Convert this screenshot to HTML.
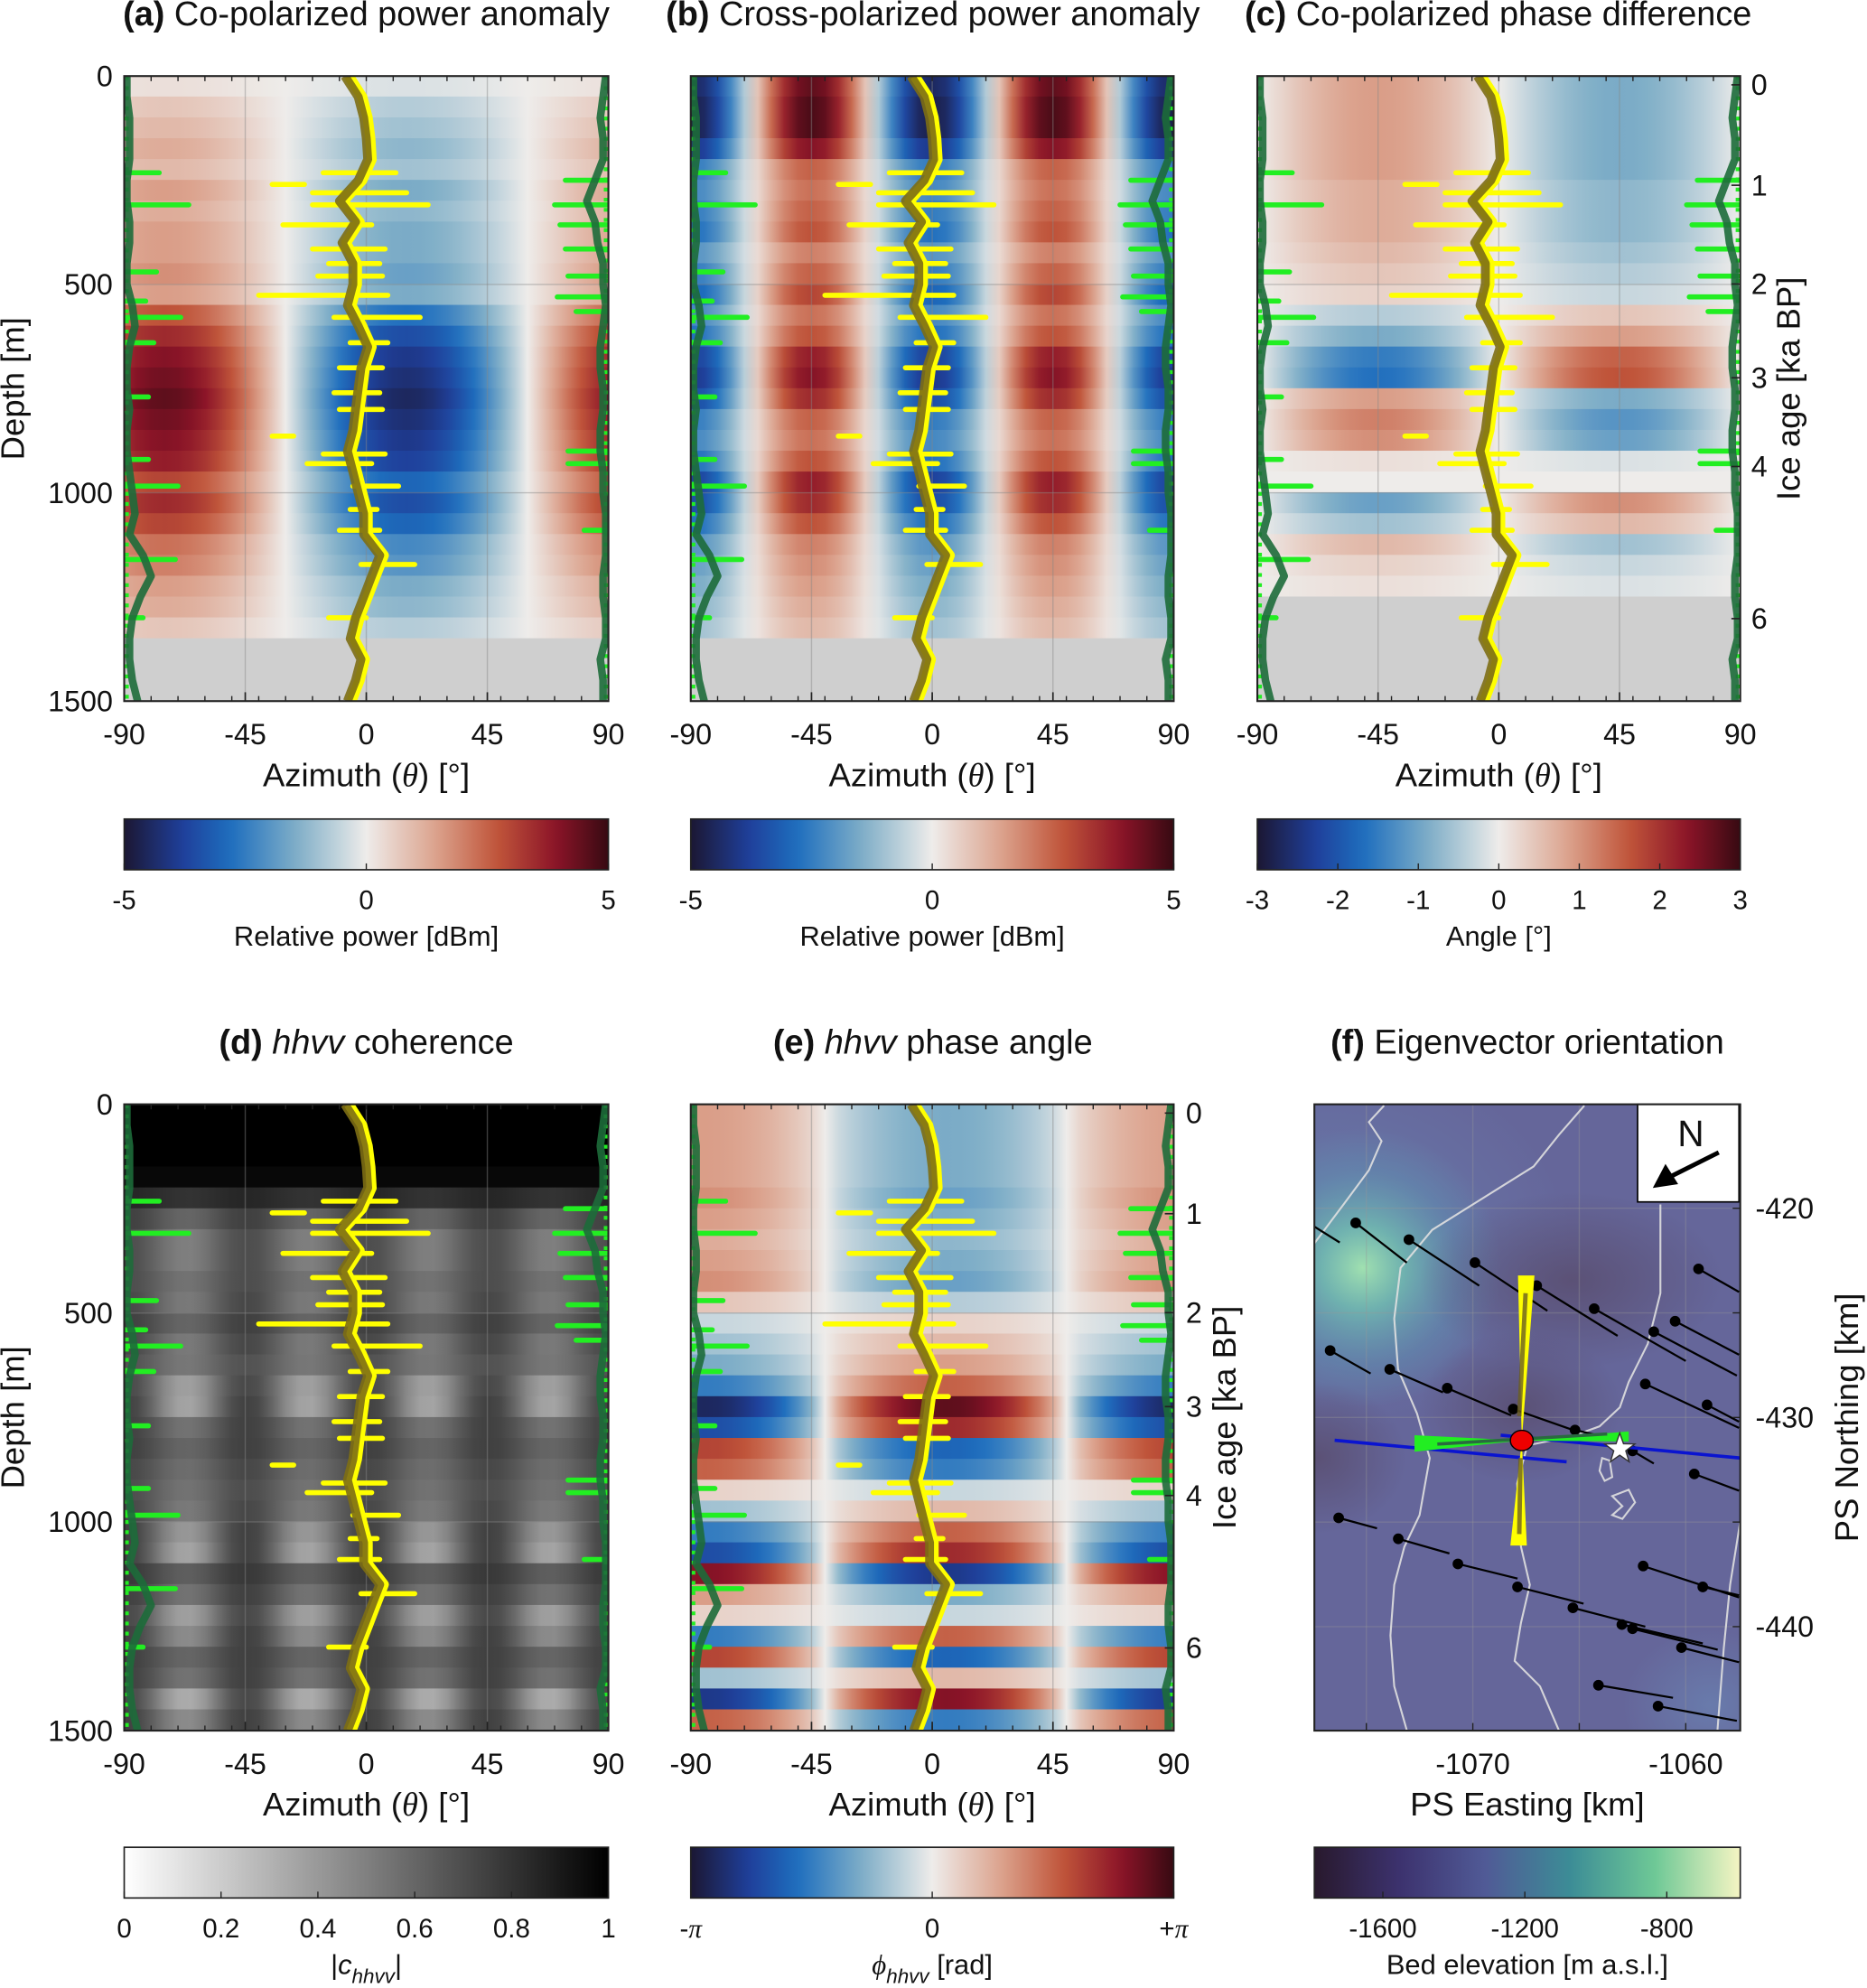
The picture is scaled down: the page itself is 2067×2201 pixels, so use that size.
<!DOCTYPE html>
<html><head><meta charset="utf-8">
<style>
html,body{margin:0;padding:0;background:#fff;}
svg{display:block;font-family:"Liberation Sans",Arial,sans-serif;}
</style></head>
<body>
<svg id="fig" width="2067" height="2201" viewBox="0 0 1473 1568" preserveAspectRatio="none" xmlns="http://www.w3.org/2000/svg">
<defs id="defs"></defs>
<rect x="0" y="0" width="1473" height="1568" fill="#fff"/>
<g id="root"></g>
</svg>
<script>
// ---------------- DATA ----------------
const depthBins = [0,50,100,150,200,250,300,350,400,450,500,550,600,650,700,750,800,850,900,950,1000,1050,1100,1150,1200,1250,1300,1350,1400,1450];
// (a) co-pol power anomaly amplitude (normalised to 5 dBm)
const copolAmp = [0.05,0.15,0.2,0.25,0.2,0.3,0.25,0.3,0.3,0.35,0.3,0.55,0.7,0.8,0.85,0.9,0.85,0.8,0.75,0.6,0.7,0.6,0.45,0.4,0.3,0.25,0.15,0.08,0.03,0.02];
// (b) cross-pol amplitude
const crossAmp = [0.9,0.95,0.95,0.8,0.5,0.45,0.5,0.55,0.4,0.5,0.6,0.45,0.55,0.75,0.8,0.7,0.5,0.45,0.55,0.75,0.7,0.55,0.4,0.35,0.3,0.25,0.2,0.12,0.05,0.03];
// (c) co-pol phase difference signed amplitude (normalised to 3 deg)
const phaseAmp = [0.3,0.3,0.3,0.3,0.3,0.25,0.25,0.25,0.2,0.15,0.1,-0.15,-0.3,-0.5,-0.55,0.3,0.4,0.35,0.05,0,-0.35,-0.2,0.2,0.1,0.05,0,0,0,0,0];
// (d) coherence base and modulation
const cohBase = [1,1,1,0.97,0.85,0.75,0.7,0.7,0.7,0.72,0.75,0.72,0.68,0.72,0.75,0.75,0.75,0.72,0.7,0.72,0.75,0.75,0.78,0.75,0.72,0.75,0.75,0.75,0.72,0.75];
const cohMod = [0,0,0,0,0.05,0.15,0.2,0.2,0.15,0.2,0.15,0.2,0.15,0.35,0.4,0.2,0.15,0.15,0.15,0.2,0.35,0.4,0.15,0.2,0.35,0.3,0.15,0.2,0.4,0.3];
// (e) hhvv phase angle signed amplitude (normalised to pi)
const hhvvAmp = [0.3,0.3,0.3,0.3,0.35,0.3,0.25,0.3,0.35,0.15,-0.1,-0.2,-0.3,-0.5,-0.9,-0.7,0.6,0.5,0.1,-0.2,-0.5,-0.7,0.8,0.3,0.1,-0.5,0.6,-0.2,-0.8,0.5];
// fabric orientation (olive line) theta by depth (every 50 m, 0..1500)
const oliveTheta = [-8,-3,-1,0,0.5,-3,-10,-4,-9,-5,-5,-7,-3,0.5,-2,-3,-4,-5,-7,-5,-3,-1,-1,5,2,-1,-4,-6,-2,-4,-7];
// yellow scatter spikes: depth, theta min, theta max
const yellowDepth = [232,260,280,309,357,415,450,480,526,579,640,700,760,800,864,907,930,984,1040,1090,1172,1300];
const yellowMin = [-16,-35,-20,-20,-31,-20,-14,-18,-40,-12,-6,-10,-12,-10,-35,-16,-22,-5,-6,-10,-2,-14];
const yellowMax = [11,-23,15,23,2,7,5,6,8,20,8,6,5,6,-27,7,2,12,4,5,18,0];
// dark green line (left/right) theta by depth
const greenLeft = [-89,-89,-88,-88,-88,-89,-89,-88,-88,-89,-89,-87,-86,-88,-89,-89,-88,-89,-89,-88,-87,-86,-88,-83,-80,-84,-87,-88,-88,-87,-85];
const greenRight = [89,88,87,88,88,85,82,85,86,88,88,89,88,87,87,88,88,87,87,88,88,89,89,89,88,88,89,89,87,88,88];
const greenLDepth = [232,309,470,540,579,640,770,920,984,1160,1300];
const greenLMax = [-77,-66,-78,-82,-69,-79,-81,-81,-70,-71,-83];
const greenRDepth = [250,309,357,415,480,530,565,900,930,1090];
const greenRMin = [74,70,72,74,75,71,78,75,75,81];
// ice age ticks
const iceAgeTicks = [0,1,2,3,4,6];
const iceAgeDepths = [21,262,499,724,937,1302];
// map (f): arrows (start E,N km and displacement)
const arrE = [-1075.5,-1073.0,-1069.9,-1067.0,-1064.3,-1061.5,-1060.5,-1059.4,-1076.7,-1073.9,-1071.2,-1068.1,-1065.2,-1061.9,-1059.0,-1062.5,-1059.6,-1076.3,-1073.5,-1070.7,-1067.9,-1065.3,-1063.0,-1062.5,-1060.2,-1062.0,-1059.2,-1064.1,-1061.3];
const arrN = [-420.7,-421.5,-422.6,-423.7,-424.8,-425.9,-425.4,-422.9,-426.8,-427.7,-428.6,-429.6,-430.6,-428.4,-429.4,-431.6,-432.7,-434.8,-435.8,-437.0,-438.1,-439.1,-439.9,-440.1,-441.0,-437.1,-438.1,-442.8,-443.8];
const arrDE = [2.4,3.3,3.4,3.8,4.3,3.9,3.0,1.9,1.9,2.5,3.0,2.8,1.7,4.4,1.5,1.0,2.1,1.8,2.4,2.8,3.1,3.4,3.8,4.0,2.7,4.5,1.7,3.5,3.7];
const arrDN = [-1.9,-2.2,-2.3,-2.4,-2.5,-2.1,-1.6,-1.1,-1.1,-1.1,-1.3,-1.0,-0.4,-2.1,-0.8,-0.6,-0.8,-0.5,-0.7,-0.7,-0.8,-0.9,-0.9,-1.0,-0.7,-1.5,-0.4,-0.6,-0.7];
const siteE = -1067.7, siteN = -431.1;
const starE = -1063.1, starN = -431.5;
const xTicksF = [-1070,-1060];
const yTicksF = [-420,-430,-440];
const bedTicks = [-1600,-1200,-800];

// ---------------- HELPERS ----------------
const NS = "http://www.w3.org/2000/svg";
const root = document.getElementById('root');
const defs = document.getElementById('defs');
function mk(tag, attrs, parent){
  const e = document.createElementNS(NS, tag);
  for (const k in attrs) e.setAttribute(k, attrs[k]);
  (parent||root).appendChild(e);
  return e;
}
const divStops = [[0,[27,23,51]],[0.12,[31,63,154]],[0.22,[30,110,190]],[0.36,[130,176,200]],[0.5,[238,236,234]],[0.64,[220,164,143]],[0.77,[192,85,58]],[0.89,[140,20,40]],[1,[55,10,18]]];
function interp(stops,t){
  t=Math.max(0,Math.min(1,t));
  for(let i=1;i<stops.length;i++){ if(t<=stops[i][0]){const a=stops[i-1],b=stops[i];const f=(t-a[0])/(b[0]-a[0]);
    return 'rgb('+a[1].map((c,j)=>Math.round(c+(b[1][j]-c)*f)).join(',')+')';}}
  return 'rgb('+stops[stops.length-1][1].join(',')+')';
}
const div = v => interp(divStops,(v+1)/2);
const gray = v => { const c=Math.round(255*(1-Math.max(0,Math.min(1,v)))); return 'rgb('+c+','+c+','+c+')'; };
const bedStops = [[0,[40,25,45]],[0.2,[60,50,110]],[0.4,[80,90,150]],[0.6,[60,140,150]],[0.8,[110,200,150]],[1,[245,245,195]]];

const R1 = {y0:60,y1:553}, R2 = {y0:871,y1:1365};
const COLS = [{x0:98,x1:480},{x0:545,x1:926},{x0:992,x1:1373}];
let gid=0;
function text(x,y,str,opt,parent){
  const t = mk('text',Object.assign({x:x,y:y,'font-size':22,fill:'#111','text-anchor':'middle'},opt||{}),parent);
  t.innerHTML = str; return t;
}

function heatPanel(name, col, row, fn, grayFrom){
  const x0=col.x0,x1=col.x1,y0=row.y0,y1=row.y1;
  const xs = th => x0+(th+90)/180*(x1-x0);
  const ys = d => y0+d/1500*(y1-y0);
  const g = mk('g',{});
  
  
  const clipId='clip'+(gid++);
  const cp = mk('clipPath',{id:clipId},defs); mk('rect',{x:x0,y:y0,width:x1-x0,height:y1-y0},cp);
  g.setAttribute('clip-path','url(#'+clipId+')');
  depthBins.forEach((d,i)=>{
    const id='hg'+(gid++);
    const lg = mk('linearGradient',{id:id,x1:'0',x2:'1',y1:'0',y2:'0'},defs);
    for(let th=-90;th<=90;th+=5){
      mk('stop',{offset:((th+90)/180).toFixed(3),'stop-color':(grayFrom!==null && d>=grayFrom)?'#cfcfcf':fn(i,th)},lg);
    }
    const r = mk('rect',{x:x0,y:ys(d)-0.3,width:x1-x0,height:ys(50)-ys(0)+0.6,fill:'url(#'+id+')'},g);
    
    
  });
  [-45,0,45].forEach(t=>mk('line',{x1:xs(t),x2:xs(t),y1:y0,y2:y1,stroke:'#888','stroke-opacity':0.45,'stroke-width':1},g));
  [500,1000].forEach(d=>mk('line',{x1:x0,x2:x1,y1:ys(d),y2:ys(d),stroke:'#888','stroke-opacity':0.45,'stroke-width':1},g));
  const lineFrom = (arr)=>arr.map((t,i)=>xs(t).toFixed(1)+','+ys(i*50).toFixed(1)).join(' ');
  for(let i=0;i<greenLDepth.length;i++){
    const l=mk('line',{x1:x0,x2:xs(greenLMax[i]),y1:ys(greenLDepth[i]),y2:ys(greenLDepth[i]),stroke:'#22ee22','stroke-width':4,'stroke-linecap':'round'},g);
     
  }
  for(let i=0;i<greenRDepth.length;i++){
    const l=mk('line',{x1:x1,x2:xs(greenRMin[i]),y1:ys(greenRDepth[i]),y2:ys(greenRDepth[i]),stroke:'#22ee22','stroke-width':4,'stroke-linecap':'round'},g);
     
  }
  mk('polyline',{points:greenLeft.map((t,i)=>xs(-89.5).toFixed(1)+','+ys(i*50).toFixed(1)).join(' '),fill:'none',stroke:'#22ee22','stroke-width':5,'stroke-dasharray':'3 5'},g);
  mk('polyline',{points:greenRight.map((t,i)=>xs(89.5).toFixed(1)+','+ys(i*50).toFixed(1)).join(' '),fill:'none',stroke:'#22ee22','stroke-width':5,'stroke-dasharray':'3 5'},g);
  const gl=mk('polyline',{points:lineFrom(greenLeft),fill:'none',stroke:'#1d6b3a','stroke-width':6,'stroke-opacity':0.9,'stroke-linejoin':'round'},g);
   
  const gr=mk('polyline',{points:lineFrom(greenRight),fill:'none',stroke:'#1d6b3a','stroke-width':6,'stroke-opacity':0.9,'stroke-linejoin':'round'},g);
   
  const yl=mk('polyline',{points:oliveTheta.map((t,i)=>xs(t+1.5).toFixed(1)+','+ys(i*50).toFixed(1)).join(' '),fill:'none',stroke:'#ffff00','stroke-width':8,'stroke-linejoin':'round'},g);
   
  for(let i=0;i<yellowDepth.length;i++){
    const l=mk('line',{x1:xs(yellowMin[i]),x2:xs(yellowMax[i]),y1:ys(yellowDepth[i]),y2:ys(yellowDepth[i]),stroke:'#ffff00','stroke-width':4,'stroke-linecap':'round'},g);
     
  }
  const ol=mk('polyline',{points:lineFrom(oliveTheta),fill:'none',stroke:'#7d6e14','stroke-opacity':0.9,'stroke-width':7,'stroke-linejoin':'round'},g);
   
  mk('rect',{x:x0,y:y0,width:x1-x0,height:y1-y0,fill:'none',stroke:'#222','stroke-width':1.5});
  for(let t=-90;t<=90;t+=10){ mk('line',{x1:xs(t),x2:xs(t),y1:y1,y2:y1-4,stroke:'#222','stroke-width':1});mk('line',{x1:xs(t),x2:xs(t),y1:y0,y2:y0+4,stroke:'#222','stroke-width':1}); }
  [-90,-45,0,45,90].forEach(t=>{
    mk('line',{x1:xs(t),x2:xs(t),y1:y1,y2:y1-7,stroke:'#222','stroke-width':1.2});
    const tt=text(xs(t),y1+34,String(t),{'font-size':23});
     
  });
  const xt=text((x0+x1)/2,y1+67,'Azimuth (<tspan font-family="Liberation Serif" font-style="italic">θ</tspan>) [°]',{'font-size':26});
   
  return {xs,ys};
}

function depthAxis(col,row){
  const ys = d => row.y0+d/1500*(row.y1-row.y0);
  [0,500,1000,1500].forEach(d=>{
    const t=text(col.x0-9,ys(d)+8,String(d),{'text-anchor':'end','font-size':23});
     
  });
  const yc=(row.y0+row.y1)/2;
  const t=text(0,0,'Depth [m]',{'font-size':26,transform:'translate(19,'+yc+') rotate(-90)'});
   
}
function iceAxis(col,row,labX,titleX){
  const ys = d => row.y0+d/1500*(row.y1-row.y0);
  iceAgeTicks.forEach((a,i)=>{
    mk('line',{x1:col.x1,x2:col.x1-7,y1:ys(iceAgeDepths[i]),y2:ys(iceAgeDepths[i]),stroke:'#222','stroke-width':1.2});
    const t=text(labX,ys(iceAgeDepths[i])+8,String(a),{'font-size':23});
     
  });
  const t=text(0,0,'Ice age [ka BP]',{'font-size':26,transform:'translate('+titleX+','+((row.y0+row.y1)/2)+') rotate(-90)'});
   
}
function title(x,y,html,name){
  const t=text(x,y,html,{'font-size':27});  
}
function colorbar(name,col,y0,fn,ticks,labels,label){
  const id='cb'+(gid++);
  const lg=mk('linearGradient',{id:id,x1:'0',x2:'1',y1:'0',y2:'0'},defs);
  for(let i=0;i<=40;i++) mk('stop',{offset:(i/40).toFixed(3),'stop-color':fn(i/40)},lg);
  const r=mk('rect',{x:col.x0,y:y0,width:col.x1-col.x0,height:40,fill:'url(#'+id+')',stroke:'#222','stroke-width':1.2});
   
  ticks.forEach((f,i)=>{
    const x=col.x0+f*(col.x1-col.x0);
    mk('line',{x1:x,x2:x,y1:y0+40,y2:y0+35,stroke:'#222','stroke-width':1});
    const t=text(x,y0+71,labels[i],{'font-size':21});
     
  });
  const t=text((col.x0+col.x1)/2,y0+100,label,{'font-size':22});
   
}

// ---------------- PANELS ----------------
const deg = Math.PI/180;
title(289,20,'<tspan font-weight="bold">(a)</tspan> Co-polarized power anomaly','title-a');
title(736,20,'<tspan font-weight="bold">(b)</tspan> Cross-polarized power anomaly','title-b');
title(1182,20,'<tspan font-weight="bold">(c)</tspan> Co-polarized phase difference','title-c');
title(289,831,'<tspan font-weight="bold">(d)</tspan> <tspan font-style="italic">hhvv</tspan> coherence','title-d');
title(736,831,'<tspan font-weight="bold">(e)</tspan> <tspan font-style="italic">hhvv</tspan> phase angle','title-e');
title(1205,831,'<tspan font-weight="bold">(f)</tspan> Eigenvector orientation','title-f');

heatPanel('heatmap-a',COLS[0],R1,(i,th)=>div(-copolAmp[i]*Math.cos(2*(th-15)*deg)),1330);
depthAxis(COLS[0],R1);
heatPanel('heatmap-b',COLS[1],R1,(i,th)=>div(-crossAmp[i]*Math.cos(4*th*deg)),1330);
heatPanel('heatmap-c',COLS[2],R1,(i,th)=>div(phaseAmp[i]*Math.sin(-2*th*deg)),1230);
iceAxis(COLS[2],R1,1388,1420);
heatPanel('heatmap-d',COLS[0],R2,(i,th)=>gray(cohBase[i]-cohMod[i]*(0.5+0.5*Math.cos(8*(th-23)*deg))),null);
depthAxis(COLS[0],R2);
heatPanel('heatmap-e',{x0:545,x1:926},R2,(i,th)=>{const c=Math.cos(2*(th-5)*deg);return div(-hhvvAmp[i]*Math.sign(c)*Math.pow(Math.abs(c),0.7));},null);
iceAxis({x0:545,x1:926},R2,942,975);

colorbar('colorbar-a',COLS[0],646,t=>div(2*t-1),[0,0.5,1],['-5','0','5'],'Relative power [dBm]');
colorbar('colorbar-b',COLS[1],646,t=>div(2*t-1),[0,0.5,1],['-5','0','5'],'Relative power [dBm]');
colorbar('colorbar-c',COLS[2],646,t=>div(2*t-1),[0,1/6,2/6,0.5,4/6,5/6,1],['-3','-2','-1','0','1','2','3'],'Angle [°]');
colorbar('colorbar-d',COLS[0],1457,t=>gray(t),[0,0.2,0.4,0.6,0.8,1],['0','0.2','0.4','0.6','0.8','1'],'|<tspan font-style="italic">c</tspan><tspan font-style="italic" font-size="16" dy="7">hhvv</tspan><tspan dy="-7">|</tspan>');
colorbar('colorbar-e',COLS[1],1457,t=>div(2*t-1),[0,0.5,1],['-<tspan font-family="Liberation Serif" font-style="italic">π</tspan>','0','+<tspan font-family="Liberation Serif" font-style="italic">π</tspan>'],'<tspan font-family="Liberation Serif" font-style="italic">ϕ</tspan><tspan font-style="italic" font-size="16" dy="7">hhvv</tspan><tspan dy="-7"> [rad]</tspan>');

// ---------------- MAP (f) ----------------
(function(){
  const x0=1037,x1=1373,y0=871,y1=1365;
  const xs = E => 1162+(E+1070)*16.8;
  const ys = N => 953-(N+420)*16.5;
  const g=mk('g',{});
  
  
  const cp=mk('clipPath',{id:'fclip'},defs); mk('rect',{x:x0,y:y0,width:x1-x0,height:y1-y0},cp);
  g.setAttribute('clip-path','url(#fclip)');
  mk('rect',{x:x0,y:y0,width:x1-x0,height:y1-y0,fill:'#65669a'},g);
  const rg=(id,stops)=>{const r=mk('radialGradient',{id:id},defs);stops.forEach(s=>mk('stop',{offset:s[0],'stop-color':s[1],'stop-opacity':s[2]},r));};
  rg('fg1',[[0,'#a0e0b0',1],[0.3,'#70b8b0',0.9],[0.7,'#5f8fb0',0.5],[1,'#5f8fb0',0]]);
  rg('fg2',[[0,'#5a4f72',0.9],[1,'#5a4f72',0]]);
  rg('fg3',[[0,'#6a80b0',0.8],[1,'#6a80b0',0]]);
  mk('ellipse',{cx:1050,cy:980,rx:190,ry:150,fill:'url(#fg3)'},g);
  mk('ellipse',{cx:1075,cy:1000,rx:110,ry:110,fill:'url(#fg1)'},g);
  mk('ellipse',{cx:1240,cy:1010,rx:120,ry:70,fill:'url(#fg2)'},g);
  mk('ellipse',{cx:1200,cy:1110,rx:80,ry:60,fill:'url(#fg2)'},g);
  mk('ellipse',{cx:1040,cy:1150,rx:70,ry:60,fill:'url(#fg2)'},g);
  mk('ellipse',{cx:1350,cy:1345,rx:70,ry:60,fill:'url(#fg3)'},g);
  [-1075,-1070,-1065,-1060].forEach(E=>mk('line',{x1:xs(E),x2:xs(E),y1:y0,y2:y1,stroke:'#999','stroke-opacity':0.35},g));
  [-420,-425,-430,-435,-440].forEach(N=>mk('line',{x1:x0,x2:x1,y1:ys(N),y2:ys(N),stroke:'#999','stroke-opacity':0.35},g));
  const cpaths=['M1036,982 L1060,950 L1080,923 L1090,900 L1080,885 L1092,872','M1110,1365 L1100,1330 L1097,1290 L1100,1250 L1108,1220 L1120,1195 L1128,1150 L1118,1115 L1103,1080 L1100,1040 L1105,1000 L1130,970 L1170,945 L1210,920 L1230,895 L1250,872',
    'M1230,1365 L1215,1330 L1195,1310 L1200,1280 L1207,1250 L1200,1220 L1197,1170 L1205,1140 L1240,1133 L1262,1125 L1278,1110 L1285,1090 L1300,1060 L1310,1020 L1310,950',
    'M1264,1150 L1262,1160 L1266,1168 L1272,1165 L1270,1152 Z','M1272,1180 L1285,1175 L1290,1185 L1280,1198 L1272,1195 L1280,1188 Z','M1373,1200 L1365,1250 L1360,1300 L1355,1365'];
  cpaths.forEach(d=>{const p=mk('path',{d:d,fill:'none',stroke:'#e0e0e0','stroke-width':1.5,'stroke-opacity':0.9},g);});
  for(let i=0;i<arrE.length;i++){
    const ln=mk('line',{x1:xs(arrE[i]),y1:ys(arrN[i]),x2:xs(arrE[i]+arrDE[i]),y2:ys(arrN[i]+arrDN[i]),stroke:'#000','stroke-width':1.6},g);
     
    const c=mk('circle',{cx:xs(arrE[i]),cy:ys(arrN[i]),r:4.2,fill:'#000'},g);
     
  }
  mk('line',{x1:1033,y1:965,x2:1057,y2:980,stroke:'#000','stroke-width':1.6},g);
  const sx=xs(siteE), sy=ys(siteN);
  mk('line',{x1:1053,y1:1136,x2:1236,y2:1153,stroke:'#0a14d0','stroke-width':2.6},g);
  mk('line',{x1:1184,y1:1132,x2:1373,y2:1150,stroke:'#0a14d0','stroke-width':2.6},g);
  const yb=mk('path',{d:`M${sx-3},1006 L${sx+10},1006 L${sx},${sy} Z M${sx-9},1219 L${sx+4},1219 L${sx},${sy} Z`,fill:'#ffff00'},g);
   
  mk('line',{x1:sx+3,y1:1020,x2:sx-2,y2:1117,stroke:'#6b5f20','stroke-width':3.5,'stroke-opacity':0.8},g);
  mk('line',{x1:sx-1,y1:1150,x2:sx-2,y2:1210,stroke:'#6b5f20','stroke-width':3.5,'stroke-opacity':0.8},g);
  const gb=mk('path',{d:`M1116,1132 L1116,1145 L${sx},${sy} Z M1285,1129 L1285,1137 L${sx},${sy} Z`,fill:'#22ee22'},g);
   
  mk('line',{x1:1134,y1:1139,x2:1268,y2:1131,stroke:'#2a6a40','stroke-width':2.5},g);
  const site=mk('ellipse',{cx:sx,cy:sy,rx:9,ry:8,fill:'#ee0000',stroke:'#000','stroke-width':1},g);
   
  const stx=xs(starE), sty=ys(starN); let pts=[];
  for(let k=0;k<10;k++){const r=k%2?5:12.5;const a=-Math.PI/2+k*Math.PI/5;pts.push((stx+r*Math.cos(a)).toFixed(1)+','+(sty+r*Math.sin(a)).toFixed(1));}
  const st=mk('polygon',{points:pts.join(' '),fill:'#fff',stroke:'#333','stroke-width':1},g);
   
  const nb=mk('g',{});  
  mk('rect',{x:1292,y:871,width:80,height:77,fill:'#fff',stroke:'#000','stroke-width':1.2},nb);
  text(1334,904,'N',{'font-size':29},nb);
  mk('line',{x1:1356,y1:909,x2:1318,y2:928,stroke:'#000','stroke-width':3.5},nb);
  mk('path',{d:'M1304,937 L1314,918 L1324,934 Z',fill:'#000'},nb);
  mk('rect',{x:x0,y:y0,width:x1-x0,height:y1-y0,fill:'none',stroke:'#222','stroke-width':1.5});
  [-1075,-1070,-1065,-1060].forEach(E=>mk('line',{x1:xs(E),x2:xs(E),y1:y1,y2:y1-6,stroke:'#222'}));
  [-420,-425,-430,-435,-440].forEach(N=>mk('line',{x1:x1,x2:x1-6,y1:ys(N),y2:ys(N),stroke:'#222'}));
  xTicksF.forEach(E=>{const t=text(xs(E),y1+34,String(E),{'font-size':23});});
  yTicksF.forEach(N=>{const t=text(x1+12,ys(N)+8,String(N),{'font-size':23,'text-anchor':'start'});});
  const xt=text(1205,1432,'PS Easting [km]',{'font-size':26});  
  const yt=text(0,0,'PS Northing [km]',{'font-size':26,transform:'translate(1466,1118) rotate(-90)'});  
  const lo=-1793, hi=-593;
  colorbar('colorbar-f',{x0:1037,x1:1373},1457,t=>interp(bedStops,t),bedTicks.map(v=>(v-lo)/(hi-lo)),bedTicks.map(String),'Bed elevation [m a.s.l.]');
})();
</script>
</body></html>
